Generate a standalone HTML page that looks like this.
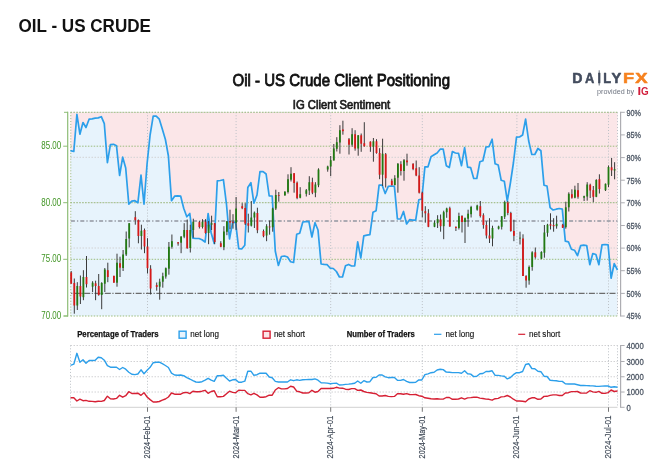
<!DOCTYPE html>
<html lang="en"><head><meta charset="utf-8"><title>Oil - US Crude Client Positioning</title>
<style>html,body{margin:0;padding:0;background:#fff}body{width:670px;height:467px;overflow:hidden}svg{display:block}</style>
</head><body>
<svg width="670" height="467" viewBox="0 0 670 467" font-family="'Liberation Sans', sans-serif">
<rect width="670" height="467" fill="#fff"/>
<text x="18.5" y="31.6" font-size="18" font-weight="bold" fill="#111" textLength="132.5" lengthAdjust="spacingAndGlyphs">OIL - US CRUDE</text>
<text x="232.5" y="85.5" font-size="17" font-weight="normal" stroke="#111" stroke-width="0.85" fill="#111" textLength="217.5" lengthAdjust="spacingAndGlyphs">Oil - US Crude Client Positioning</text>
<text x="292.8" y="108.7" font-size="12.2" font-weight="normal" stroke="#1a1a1a" stroke-width="0.7" fill="#1a1a1a" textLength="97.4" lengthAdjust="spacingAndGlyphs">IG Client Sentiment</text>
<text transform="translate(572.26,83.0) scale(0.959,1)" font-size="14.8" font-weight="bold" fill="#434c5e" stroke="#434c5e" stroke-width="0.5" stroke-linejoin="round">D</text>
<text transform="translate(585.10,83.0) scale(0.870,1)" font-size="14.8" font-weight="bold" fill="#434c5e" stroke="#434c5e" stroke-width="0.5" stroke-linejoin="round">A</text>
<text transform="translate(597.49,83.0) scale(0.833,1)" font-size="14.8" font-weight="bold" fill="#434c5e" stroke="#434c5e" stroke-width="0.5" stroke-linejoin="round">I</text>
<text transform="translate(603.15,83.0) scale(0.872,1)" font-size="14.8" font-weight="bold" fill="#434c5e" stroke="#434c5e" stroke-width="0.5" stroke-linejoin="round">L</text>
<text transform="translate(611.52,83.0) scale(0.988,1)" font-size="14.8" font-weight="bold" fill="#434c5e" stroke="#434c5e" stroke-width="0.5" stroke-linejoin="round">Y</text>
<text transform="translate(623.10,83.0) scale(1.227,1)" font-size="14.8" font-weight="bold" fill="#f6821f" stroke="#f6821f" stroke-width="0.5" stroke-linejoin="round">F</text>
<text transform="translate(635.15,83.0) scale(1.250,1)" font-size="14.8" font-weight="bold" fill="#f6821f" stroke="#f6821f" stroke-width="0.5" stroke-linejoin="round">X</text>
<line x1="599.2" x2="599.2" y1="70.3" y2="85.5" stroke="#434c5e" stroke-width="0.8"/>
<text transform="translate(637.44,94.5) scale(1.228,1)" font-size="10.6" font-weight="bold" fill="#d21f3c" stroke="#d21f3c" stroke-width="0" stroke-linejoin="round">I</text>
<text transform="translate(640.91,94.5) scale(0.930,1)" font-size="10.6" font-weight="bold" fill="#d21f3c" stroke="#d21f3c" stroke-width="0" stroke-linejoin="round">G</text>
<text x="597.1" y="93.6" font-size="8" fill="#6e7480" textLength="37.1" lengthAdjust="spacingAndGlyphs">provided by</text>
<rect x="70.5" y="112.3" width="547.0" height="203.7" fill="#fbe6e8"/>
<polygon points="70.5,316.0 70.5,150.7 73.8,151.5 76.9,114.3 79.9,134.2 83.0,122.5 86.0,127.5 89.1,119.2 92.1,118.8 95.2,118.2 98.2,117.9 101.3,116.7 104.3,123.7 107.4,162.7 110.4,144.7 113.5,144.3 116.5,145.8 119.6,175.5 122.7,157.2 125.7,168.0 128.8,204.2 131.8,201.2 134.9,200.7 137.9,202.7 141.0,175.2 144.0,204.2 147.1,163.5 150.1,135.0 153.2,116.2 156.2,116.2 159.3,119.2 162.3,129.0 165.4,139.5 168.4,156.0 171.5,200.7 174.6,196.2 177.6,195.8 180.7,196.2 183.7,208.2 186.8,216.8 189.8,213.5 192.9,238.2 195.9,238.5 199.0,238.5 202.0,239.7 205.1,242.0 208.1,213.5 211.2,233.0 214.2,243.5 217.3,180.8 220.3,180.5 223.4,179.7 226.5,204.5 229.5,239.0 232.6,222.3 235.6,222.3 238.7,248.7 241.7,249.0 244.8,245.2 247.8,187.5 250.9,182.7 253.9,203.2 257.0,195.0 260.0,171.7 263.1,171.7 266.1,174.0 269.2,196.0 272.2,196.0 275.3,251.2 278.4,265.5 281.4,256.5 284.5,256.0 287.5,257.0 290.6,261.7 293.6,262.5 296.7,234.3 299.7,233.2 302.8,222.0 305.8,221.7 308.9,221.7 311.9,237.0 315.0,222.7 318.0,230.0 321.1,264.0 324.1,264.4 327.2,264.7 330.3,268.2 333.3,268.5 336.4,271.5 339.4,277.0 342.5,277.0 345.5,265.8 348.6,264.4 351.6,266.0 354.7,266.0 357.7,241.8 360.8,258.0 363.8,235.8 366.9,235.2 369.9,234.7 373.0,212.2 376.1,210.7 379.1,185.2 382.2,185.2 385.2,193.5 388.3,186.3 391.3,186.0 394.4,186.3 397.4,219.0 400.5,219.0 403.5,211.5 406.6,224.0 409.6,219.7 412.7,220.2 415.7,220.2 418.8,199.8 421.8,199.0 424.9,166.8 428.0,166.8 431.0,156.7 434.1,154.8 437.1,153.0 440.2,149.2 443.2,149.2 446.3,165.7 449.3,167.5 452.4,151.5 455.4,153.0 458.5,153.3 461.5,165.7 464.6,147.7 467.6,167.2 470.7,167.7 473.7,178.5 476.8,178.5 479.9,161.7 482.9,160.8 486.0,147.0 489.0,146.7 492.1,139.2 495.1,163.8 498.2,165.0 501.2,180.3 504.3,181.2 507.3,201.0 510.4,183.0 513.4,163.0 516.5,137.2 519.5,137.0 522.6,135.0 525.6,119.2 528.7,141.0 531.8,154.5 534.8,154.5 537.9,148.5 540.9,150.7 544.0,185.2 547.0,186.0 550.1,207.7 553.1,210.0 556.2,209.2 559.2,208.5 562.3,209.2 565.3,241.2 568.4,241.8 571.4,249.3 574.5,250.2 577.5,255.7 580.6,245.7 583.7,245.2 586.7,245.5 589.8,264.7 592.8,253.5 595.9,254.5 598.9,264.7 602.0,244.8 605.0,244.5 608.1,244.8 611.1,278.2 614.2,263.7 617.5,270.0 617.5,316.0" fill="#e7f3fc"/>
<line x1="70.5" x2="617.5" y1="112.3" y2="112.3" stroke="#d2d2d4" stroke-width="1" stroke-dasharray="1.5 1.5"/>
<line x1="70.5" x2="617.5" y1="157.3" y2="157.3" stroke="#d2d2d4" stroke-width="1" stroke-dasharray="1.5 1.5"/>
<line x1="70.5" x2="617.5" y1="202.7" y2="202.7" stroke="#d2d2d4" stroke-width="1" stroke-dasharray="1.5 1.5"/>
<line x1="70.5" x2="617.5" y1="248.0" y2="248.0" stroke="#d2d2d4" stroke-width="1" stroke-dasharray="1.5 1.5"/>
<line x1="147.5" x2="147.5" y1="112.3" y2="316.0" stroke="#bcc0c6" stroke-width="1" stroke-dasharray="1 1.95"/>
<line x1="236.1" x2="236.1" y1="112.3" y2="316.0" stroke="#bcc0c6" stroke-width="1" stroke-dasharray="1 1.95"/>
<line x1="330.7" x2="330.7" y1="112.3" y2="316.0" stroke="#bcc0c6" stroke-width="1" stroke-dasharray="1 1.95"/>
<line x1="422.3" x2="422.3" y1="112.3" y2="316.0" stroke="#bcc0c6" stroke-width="1" stroke-dasharray="1 1.95"/>
<line x1="516.9" x2="516.9" y1="112.3" y2="316.0" stroke="#bcc0c6" stroke-width="1" stroke-dasharray="1 1.95"/>
<line x1="608.5" x2="608.5" y1="112.3" y2="316.0" stroke="#bcc0c6" stroke-width="1" stroke-dasharray="1 1.95"/>
<line x1="617.5" x2="617.5" y1="112.3" y2="316.0" stroke="#bcc0c6" stroke-width="1" stroke-dasharray="1 1.95"/>
<line x1="70.8" x2="70.8" y1="112.3" y2="316.0" stroke="#9cbd7e" stroke-width="1" stroke-dasharray="1 1.9"/>
<line x1="70.5" x2="617.5" y1="112.3" y2="112.3" stroke="#9cbd7e" stroke-width="1" stroke-dasharray="1.5 1.4"/>
<line x1="70.5" x2="617.5" y1="146.2" y2="146.2" stroke="#9cbd7e" stroke-width="1" stroke-dasharray="1.5 1.4"/>
<line x1="70.5" x2="617.5" y1="202.7" y2="202.7" stroke="#9cbd7e" stroke-width="1" stroke-dasharray="1.5 1.4"/>
<line x1="70.5" x2="617.5" y1="259.3" y2="259.3" stroke="#9cbd7e" stroke-width="1" stroke-dasharray="1.5 1.4"/>
<line x1="70.5" x2="617.5" y1="316.0" y2="316.0" stroke="#9cbd7e" stroke-width="1" stroke-dasharray="1.5 1.4"/>
<line x1="70.9" x2="617.5" y1="220.9" y2="220.9" stroke="#9296a0" stroke-width="1.5" stroke-dasharray="4 2.05 1.3 2.05"/>
<line x1="70.5" x2="617.5" y1="293.4" y2="293.4" stroke="#6c6c6c" stroke-width="1.4" stroke-dasharray="6 1.55 1.2 1.55" stroke-dashoffset="6.9"/>
<polyline points="70.5,150.7 73.8,151.5 76.9,114.3 79.9,134.2 83.0,122.5 86.0,127.5 89.1,119.2 92.1,118.8 95.2,118.2 98.2,117.9 101.3,116.7 104.3,123.7 107.4,162.7 110.4,144.7 113.5,144.3 116.5,145.8 119.6,175.5 122.7,157.2 125.7,168.0 128.8,204.2 131.8,201.2 134.9,200.7 137.9,202.7 141.0,175.2 144.0,204.2 147.1,163.5 150.1,135.0 153.2,116.2 156.2,116.2 159.3,119.2 162.3,129.0 165.4,139.5 168.4,156.0 171.5,200.7 174.6,196.2 177.6,195.8 180.7,196.2 183.7,208.2 186.8,216.8 189.8,213.5 192.9,238.2 195.9,238.5 199.0,238.5 202.0,239.7 205.1,242.0 208.1,213.5 211.2,233.0 214.2,243.5 217.3,180.8 220.3,180.5 223.4,179.7 226.5,204.5 229.5,239.0 232.6,222.3 235.6,222.3 238.7,248.7 241.7,249.0 244.8,245.2 247.8,187.5 250.9,182.7 253.9,203.2 257.0,195.0 260.0,171.7 263.1,171.7 266.1,174.0 269.2,196.0 272.2,196.0 275.3,251.2 278.4,265.5 281.4,256.5 284.5,256.0 287.5,257.0 290.6,261.7 293.6,262.5 296.7,234.3 299.7,233.2 302.8,222.0 305.8,221.7 308.9,221.7 311.9,237.0 315.0,222.7 318.0,230.0 321.1,264.0 324.1,264.4 327.2,264.7 330.3,268.2 333.3,268.5 336.4,271.5 339.4,277.0 342.5,277.0 345.5,265.8 348.6,264.4 351.6,266.0 354.7,266.0 357.7,241.8 360.8,258.0 363.8,235.8 366.9,235.2 369.9,234.7 373.0,212.2 376.1,210.7 379.1,185.2 382.2,185.2 385.2,193.5 388.3,186.3 391.3,186.0 394.4,186.3 397.4,219.0 400.5,219.0 403.5,211.5 406.6,224.0 409.6,219.7 412.7,220.2 415.7,220.2 418.8,199.8 421.8,199.0 424.9,166.8 428.0,166.8 431.0,156.7 434.1,154.8 437.1,153.0 440.2,149.2 443.2,149.2 446.3,165.7 449.3,167.5 452.4,151.5 455.4,153.0 458.5,153.3 461.5,165.7 464.6,147.7 467.6,167.2 470.7,167.7 473.7,178.5 476.8,178.5 479.9,161.7 482.9,160.8 486.0,147.0 489.0,146.7 492.1,139.2 495.1,163.8 498.2,165.0 501.2,180.3 504.3,181.2 507.3,201.0 510.4,183.0 513.4,163.0 516.5,137.2 519.5,137.0 522.6,135.0 525.6,119.2 528.7,141.0 531.8,154.5 534.8,154.5 537.9,148.5 540.9,150.7 544.0,185.2 547.0,186.0 550.1,207.7 553.1,210.0 556.2,209.2 559.2,208.5 562.3,209.2 565.3,241.2 568.4,241.8 571.4,249.3 574.5,250.2 577.5,255.7 580.6,245.7 583.7,245.2 586.7,245.5 589.8,264.7 592.8,253.5 595.9,254.5 598.9,264.7 602.0,244.8 605.0,244.5 608.1,244.8 611.1,278.2 614.2,263.7 617.5,270.0" fill="none" stroke="#2c9fea" stroke-width="1.7" stroke-linejoin="round"/>
<line x1="71.2" x2="71.2" y1="271" y2="283.7" stroke="#3a3a3a" stroke-width="1"/>
<rect x="70.3" y="272.5" width="1.8" height="11.2" fill="#d81818"/>
<line x1="74.3" x2="74.3" y1="278.5" y2="313.7" stroke="#3a3a3a" stroke-width="1"/>
<rect x="73.4" y="283" width="1.8" height="22.5" fill="#d81818"/>
<line x1="77.3" x2="77.3" y1="282.2" y2="310" stroke="#3a3a3a" stroke-width="1"/>
<rect x="76.4" y="286" width="1.8" height="19.5" fill="#217a12"/>
<line x1="80.4" x2="80.4" y1="275.5" y2="304" stroke="#3a3a3a" stroke-width="1"/>
<rect x="79.5" y="286" width="1.8" height="10.5" fill="#d81818"/>
<line x1="83.4" x2="83.4" y1="270.2" y2="300.2" stroke="#3a3a3a" stroke-width="1"/>
<rect x="82.5" y="277" width="1.8" height="20.2" fill="#217a12"/>
<line x1="86.5" x2="86.5" y1="256" y2="287.5" stroke="#3a3a3a" stroke-width="1"/>
<rect x="85.6" y="277" width="1.8" height="7.2" fill="#d81818"/>
<line x1="92.6" x2="92.6" y1="281.2" y2="292" stroke="#3a3a3a" stroke-width="1"/>
<rect x="91.7" y="282.7" width="1.8" height="4.0" fill="#217a12"/>
<line x1="95.6" x2="95.6" y1="280.7" y2="300.2" stroke="#3a3a3a" stroke-width="1"/>
<rect x="94.7" y="283.3" width="1.8" height="2.7" fill="#d81818"/>
<line x1="98.7" x2="98.7" y1="274" y2="295.7" stroke="#3a3a3a" stroke-width="1"/>
<rect x="97.8" y="286" width="1.8" height="9.0" fill="#d81818"/>
<line x1="101.7" x2="101.7" y1="282.2" y2="309.2" stroke="#3a3a3a" stroke-width="1"/>
<rect x="100.8" y="283" width="1.8" height="12.0" fill="#217a12"/>
<line x1="104.8" x2="104.8" y1="268" y2="292" stroke="#3a3a3a" stroke-width="1"/>
<rect x="103.9" y="269.5" width="1.8" height="14.2" fill="#217a12"/>
<line x1="107.8" x2="107.8" y1="262.7" y2="282.2" stroke="#3a3a3a" stroke-width="1"/>
<rect x="106.9" y="270.2" width="1.8" height="6.8" fill="#d81818"/>
<line x1="113.9" x2="113.9" y1="275.8" y2="282.7" stroke="#3a3a3a" stroke-width="1"/>
<rect x="113.0" y="275.8" width="1.8" height="6.9" fill="#d81818"/>
<line x1="117.0" x2="117.0" y1="253.7" y2="286.7" stroke="#3a3a3a" stroke-width="1"/>
<rect x="116.1" y="262.7" width="1.8" height="20.0" fill="#217a12"/>
<line x1="120.0" x2="120.0" y1="256.7" y2="277" stroke="#3a3a3a" stroke-width="1"/>
<rect x="119.1" y="263.2" width="1.8" height="4.5" fill="#d81818"/>
<line x1="123.1" x2="123.1" y1="250" y2="271" stroke="#3a3a3a" stroke-width="1"/>
<rect x="122.2" y="254.5" width="1.8" height="13.5" fill="#217a12"/>
<line x1="126.2" x2="126.2" y1="231.5" y2="256" stroke="#3a3a3a" stroke-width="1"/>
<rect x="125.3" y="239" width="1.8" height="15.5" fill="#217a12"/>
<line x1="129.2" x2="129.2" y1="223.2" y2="247.4" stroke="#3a3a3a" stroke-width="1"/>
<rect x="128.3" y="223.2" width="1.8" height="15.3" fill="#217a12"/>
<line x1="135.3" x2="135.3" y1="211.2" y2="224.7" stroke="#3a3a3a" stroke-width="1"/>
<rect x="134.4" y="217.2" width="1.8" height="3.0" fill="#d81818"/>
<line x1="138.4" x2="138.4" y1="219.5" y2="243.3" stroke="#3a3a3a" stroke-width="1"/>
<rect x="137.5" y="220.2" width="1.8" height="15.8" fill="#d81818"/>
<line x1="141.4" x2="141.4" y1="224.7" y2="249.5" stroke="#3a3a3a" stroke-width="1"/>
<rect x="140.5" y="230.7" width="1.8" height="5.3" fill="#217a12"/>
<line x1="144.5" x2="144.5" y1="228.5" y2="253.2" stroke="#3a3a3a" stroke-width="1"/>
<rect x="143.6" y="230" width="1.8" height="16.5" fill="#d81818"/>
<line x1="147.5" x2="147.5" y1="238.2" y2="273.5" stroke="#3a3a3a" stroke-width="1"/>
<rect x="146.6" y="246.5" width="1.8" height="21.7" fill="#d81818"/>
<line x1="150.6" x2="150.6" y1="265.2" y2="294.5" stroke="#3a3a3a" stroke-width="1"/>
<rect x="149.7" y="268.7" width="1.8" height="19.8" fill="#d81818"/>
<line x1="156.7" x2="156.7" y1="282.5" y2="290.7" stroke="#3a3a3a" stroke-width="1"/>
<rect x="155.8" y="285" width="1.8" height="2.0" fill="#d81818"/>
<line x1="159.7" x2="159.7" y1="278.7" y2="299.7" stroke="#3a3a3a" stroke-width="1"/>
<rect x="158.8" y="281.7" width="1.8" height="5.0" fill="#217a12"/>
<line x1="162.8" x2="162.8" y1="272.7" y2="287.7" stroke="#3a3a3a" stroke-width="1"/>
<rect x="161.9" y="276.2" width="1.8" height="5.5" fill="#217a12"/>
<line x1="165.8" x2="165.8" y1="267.5" y2="278.7" stroke="#3a3a3a" stroke-width="1"/>
<rect x="164.9" y="268.2" width="1.8" height="8.3" fill="#217a12"/>
<line x1="168.9" x2="168.9" y1="242" y2="274.7" stroke="#3a3a3a" stroke-width="1"/>
<rect x="168.0" y="246.8" width="1.8" height="21.9" fill="#217a12"/>
<line x1="171.9" x2="171.9" y1="234.5" y2="248.7" stroke="#3a3a3a" stroke-width="1"/>
<rect x="171.0" y="241.2" width="1.8" height="5.6" fill="#217a12"/>
<line x1="178.1" x2="178.1" y1="242" y2="245.7" stroke="#3a3a3a" stroke-width="1"/>
<rect x="177.2" y="242.3" width="1.8" height="1.2" fill="#d81818"/>
<line x1="181.1" x2="181.1" y1="236" y2="253.2" stroke="#3a3a3a" stroke-width="1"/>
<rect x="180.2" y="236.7" width="1.8" height="6.0" fill="#217a12"/>
<line x1="184.2" x2="184.2" y1="223.2" y2="238.2" stroke="#3a3a3a" stroke-width="1"/>
<rect x="183.3" y="230" width="1.8" height="6.7" fill="#217a12"/>
<line x1="187.2" x2="187.2" y1="219.5" y2="248.7" stroke="#3a3a3a" stroke-width="1"/>
<rect x="186.3" y="230" width="1.8" height="18.3" fill="#d81818"/>
<line x1="190.3" x2="190.3" y1="224.7" y2="252.5" stroke="#3a3a3a" stroke-width="1"/>
<rect x="189.4" y="230" width="1.8" height="18.0" fill="#217a12"/>
<line x1="193.3" x2="193.3" y1="218.7" y2="237.7" stroke="#3a3a3a" stroke-width="1"/>
<rect x="192.4" y="221.7" width="1.8" height="8.3" fill="#217a12"/>
<line x1="199.4" x2="199.4" y1="221" y2="228.5" stroke="#3a3a3a" stroke-width="1"/>
<rect x="198.5" y="222.2" width="1.8" height="4.8" fill="#d81818"/>
<line x1="202.5" x2="202.5" y1="219.2" y2="228.5" stroke="#3a3a3a" stroke-width="1"/>
<rect x="201.6" y="221.7" width="1.8" height="5.3" fill="#217a12"/>
<line x1="205.5" x2="205.5" y1="219.2" y2="233.7" stroke="#3a3a3a" stroke-width="1"/>
<rect x="204.6" y="221.7" width="1.8" height="11.3" fill="#d81818"/>
<line x1="208.6" x2="208.6" y1="221" y2="244.2" stroke="#3a3a3a" stroke-width="1"/>
<rect x="207.7" y="224.7" width="1.8" height="8.3" fill="#217a12"/>
<line x1="211.6" x2="211.6" y1="215.7" y2="230" stroke="#3a3a3a" stroke-width="1"/>
<rect x="210.7" y="223.2" width="1.8" height="1.5" fill="#217a12"/>
<line x1="214.7" x2="214.7" y1="223" y2="244.2" stroke="#3a3a3a" stroke-width="1"/>
<rect x="213.8" y="223.2" width="1.8" height="18.8" fill="#d81818"/>
<line x1="220.8" x2="220.8" y1="241.2" y2="247.2" stroke="#3a3a3a" stroke-width="1"/>
<rect x="219.9" y="243.2" width="1.8" height="3.6" fill="#d81818"/>
<line x1="223.9" x2="223.9" y1="226.2" y2="250.2" stroke="#3a3a3a" stroke-width="1"/>
<rect x="223.0" y="231.5" width="1.8" height="15.7" fill="#217a12"/>
<line x1="226.9" x2="226.9" y1="221" y2="235.2" stroke="#3a3a3a" stroke-width="1"/>
<rect x="226.0" y="221.3" width="1.8" height="10.5" fill="#217a12"/>
<line x1="230.0" x2="230.0" y1="209.7" y2="229.2" stroke="#3a3a3a" stroke-width="1"/>
<rect x="229.1" y="221" width="1.8" height="1.5" fill="#d81818"/>
<line x1="233.0" x2="233.0" y1="214.2" y2="228.7" stroke="#3a3a3a" stroke-width="1"/>
<rect x="232.1" y="221.7" width="1.8" height="1.1" fill="#d81818"/>
<line x1="236.1" x2="236.1" y1="197" y2="230" stroke="#3a3a3a" stroke-width="1"/>
<rect x="235.2" y="208.5" width="1.8" height="14.2" fill="#217a12"/>
<line x1="242.2" x2="242.2" y1="203.2" y2="209.2" stroke="#3a3a3a" stroke-width="1"/>
<rect x="241.3" y="206.2" width="1.8" height="2.0" fill="#d81818"/>
<line x1="245.2" x2="245.2" y1="203.2" y2="225" stroke="#3a3a3a" stroke-width="1"/>
<rect x="244.3" y="208" width="1.8" height="15.5" fill="#d81818"/>
<line x1="248.3" x2="248.3" y1="213.7" y2="232.5" stroke="#3a3a3a" stroke-width="1"/>
<rect x="247.4" y="223.2" width="1.8" height="2.5" fill="#d81818"/>
<line x1="251.3" x2="251.3" y1="201" y2="226.5" stroke="#3a3a3a" stroke-width="1"/>
<rect x="250.4" y="217.5" width="1.8" height="8.2" fill="#217a12"/>
<line x1="254.4" x2="254.4" y1="211.5" y2="228" stroke="#3a3a3a" stroke-width="1"/>
<rect x="253.5" y="212.7" width="1.8" height="4.8" fill="#217a12"/>
<line x1="257.4" x2="257.4" y1="207.7" y2="233.2" stroke="#3a3a3a" stroke-width="1"/>
<rect x="256.5" y="213" width="1.8" height="17.2" fill="#d81818"/>
<line x1="263.5" x2="263.5" y1="229.5" y2="237.3" stroke="#3a3a3a" stroke-width="1"/>
<rect x="262.6" y="231" width="1.8" height="5.2" fill="#d81818"/>
<line x1="266.6" x2="266.6" y1="224.2" y2="241.2" stroke="#3a3a3a" stroke-width="1"/>
<rect x="265.7" y="226.2" width="1.8" height="9.3" fill="#217a12"/>
<line x1="269.6" x2="269.6" y1="220.5" y2="234.7" stroke="#3a3a3a" stroke-width="1"/>
<rect x="268.7" y="226.5" width="1.8" height="0.9" fill="#d81818"/>
<line x1="272.7" x2="272.7" y1="207.7" y2="231.7" stroke="#3a3a3a" stroke-width="1"/>
<rect x="271.8" y="208.5" width="1.8" height="18.7" fill="#217a12"/>
<line x1="275.8" x2="275.8" y1="189.7" y2="210" stroke="#3a3a3a" stroke-width="1"/>
<rect x="274.9" y="195" width="1.8" height="13.5" fill="#217a12"/>
<line x1="278.8" x2="278.8" y1="192" y2="201.7" stroke="#3a3a3a" stroke-width="1"/>
<rect x="277.9" y="195" width="1.8" height="0.8" fill="#d81818"/>
<line x1="284.9" x2="284.9" y1="191.2" y2="195.7" stroke="#3a3a3a" stroke-width="1"/>
<rect x="284.0" y="191.7" width="1.8" height="3.7" fill="#217a12"/>
<line x1="288.0" x2="288.0" y1="174.3" y2="193.5" stroke="#3a3a3a" stroke-width="1"/>
<rect x="287.1" y="179.2" width="1.8" height="12.8" fill="#217a12"/>
<line x1="291.0" x2="291.0" y1="167.2" y2="181.5" stroke="#3a3a3a" stroke-width="1"/>
<rect x="290.1" y="173.7" width="1.8" height="6.0" fill="#217a12"/>
<line x1="294.1" x2="294.1" y1="173.2" y2="192.7" stroke="#3a3a3a" stroke-width="1"/>
<rect x="293.2" y="173.2" width="1.8" height="9.8" fill="#d81818"/>
<line x1="297.1" x2="297.1" y1="181.5" y2="199.2" stroke="#3a3a3a" stroke-width="1"/>
<rect x="296.2" y="182.7" width="1.8" height="15.3" fill="#d81818"/>
<line x1="300.2" x2="300.2" y1="187.2" y2="198.3" stroke="#3a3a3a" stroke-width="1"/>
<rect x="299.3" y="194.2" width="1.8" height="3.5" fill="#217a12"/>
<line x1="306.3" x2="306.3" y1="189" y2="196.5" stroke="#3a3a3a" stroke-width="1"/>
<rect x="305.4" y="190.2" width="1.8" height="3.6" fill="#217a12"/>
<line x1="309.3" x2="309.3" y1="176.2" y2="195" stroke="#3a3a3a" stroke-width="1"/>
<rect x="308.4" y="182.2" width="1.8" height="8.3" fill="#217a12"/>
<line x1="312.4" x2="312.4" y1="177.7" y2="194.2" stroke="#3a3a3a" stroke-width="1"/>
<rect x="311.5" y="182.2" width="1.8" height="10.5" fill="#d81818"/>
<line x1="315.4" x2="315.4" y1="182.2" y2="197.2" stroke="#3a3a3a" stroke-width="1"/>
<rect x="314.5" y="184.5" width="1.8" height="8.2" fill="#217a12"/>
<line x1="318.5" x2="318.5" y1="168.3" y2="187.2" stroke="#3a3a3a" stroke-width="1"/>
<rect x="317.6" y="169.5" width="1.8" height="15.7" fill="#217a12"/>
<line x1="327.7" x2="327.7" y1="165.7" y2="171.7" stroke="#3a3a3a" stroke-width="1"/>
<rect x="326.8" y="166.5" width="1.8" height="3.0" fill="#217a12"/>
<line x1="330.7" x2="330.7" y1="156" y2="176.2" stroke="#3a3a3a" stroke-width="1"/>
<rect x="329.8" y="160.2" width="1.8" height="6.3" fill="#217a12"/>
<line x1="333.8" x2="333.8" y1="144" y2="160.5" stroke="#3a3a3a" stroke-width="1"/>
<rect x="332.9" y="148.5" width="1.8" height="12.0" fill="#217a12"/>
<line x1="336.8" x2="336.8" y1="137.2" y2="151.5" stroke="#3a3a3a" stroke-width="1"/>
<rect x="335.9" y="142.2" width="1.8" height="6.6" fill="#217a12"/>
<line x1="339.9" x2="339.9" y1="125.2" y2="153.7" stroke="#3a3a3a" stroke-width="1"/>
<rect x="339.0" y="130.2" width="1.8" height="12.3" fill="#217a12"/>
<line x1="342.9" x2="342.9" y1="120.7" y2="134.7" stroke="#3a3a3a" stroke-width="1"/>
<rect x="342.0" y="129.5" width="1.8" height="1.7" fill="#d81818"/>
<line x1="349.0" x2="349.0" y1="138" y2="154.5" stroke="#3a3a3a" stroke-width="1"/>
<rect x="348.1" y="139.2" width="1.8" height="5.5" fill="#d81818"/>
<line x1="352.1" x2="352.1" y1="128.2" y2="146.7" stroke="#3a3a3a" stroke-width="1"/>
<rect x="351.2" y="134.2" width="1.8" height="10.5" fill="#217a12"/>
<line x1="355.1" x2="355.1" y1="130.2" y2="150.7" stroke="#3a3a3a" stroke-width="1"/>
<rect x="354.2" y="134.2" width="1.8" height="14.3" fill="#d81818"/>
<line x1="358.2" x2="358.2" y1="135" y2="155.7" stroke="#3a3a3a" stroke-width="1"/>
<rect x="357.3" y="135.3" width="1.8" height="13.2" fill="#217a12"/>
<line x1="361.2" x2="361.2" y1="133.5" y2="151.8" stroke="#3a3a3a" stroke-width="1"/>
<rect x="360.3" y="135.3" width="1.8" height="8.4" fill="#d81818"/>
<line x1="364.3" x2="364.3" y1="122.2" y2="146.7" stroke="#3a3a3a" stroke-width="1"/>
<rect x="363.4" y="143.2" width="1.8" height="3.0" fill="#d81818"/>
<line x1="370.4" x2="370.4" y1="141.3" y2="151.8" stroke="#3a3a3a" stroke-width="1"/>
<rect x="369.5" y="141.7" width="1.8" height="5.0" fill="#d81818"/>
<line x1="373.4" x2="373.4" y1="138" y2="161.7" stroke="#3a3a3a" stroke-width="1"/>
<rect x="372.5" y="141.3" width="1.8" height="5.4" fill="#217a12"/>
<line x1="376.5" x2="376.5" y1="139.2" y2="153.7" stroke="#3a3a3a" stroke-width="1"/>
<rect x="375.6" y="141.3" width="1.8" height="11.7" fill="#d81818"/>
<line x1="379.6" x2="379.6" y1="148.2" y2="179.2" stroke="#3a3a3a" stroke-width="1"/>
<rect x="378.7" y="153" width="1.8" height="21.7" fill="#d81818"/>
<line x1="382.6" x2="382.6" y1="138.7" y2="186" stroke="#3a3a3a" stroke-width="1"/>
<rect x="381.7" y="153.7" width="1.8" height="21.0" fill="#217a12"/>
<line x1="385.7" x2="385.7" y1="153" y2="187.5" stroke="#3a3a3a" stroke-width="1"/>
<rect x="384.8" y="154.2" width="1.8" height="24.0" fill="#d81818"/>
<line x1="391.8" x2="391.8" y1="178.8" y2="185.2" stroke="#3a3a3a" stroke-width="1"/>
<rect x="390.9" y="180.7" width="1.8" height="4.5" fill="#d81818"/>
<line x1="394.8" x2="394.8" y1="175.2" y2="185.2" stroke="#3a3a3a" stroke-width="1"/>
<rect x="393.9" y="178.2" width="1.8" height="7.0" fill="#217a12"/>
<line x1="397.9" x2="397.9" y1="163" y2="192.7" stroke="#3a3a3a" stroke-width="1"/>
<rect x="397.0" y="163.8" width="1.8" height="13.9" fill="#217a12"/>
<line x1="400.9" x2="400.9" y1="161.2" y2="175.5" stroke="#3a3a3a" stroke-width="1"/>
<rect x="400.0" y="164.2" width="1.8" height="6.8" fill="#d81818"/>
<line x1="404.0" x2="404.0" y1="159" y2="180.7" stroke="#3a3a3a" stroke-width="1"/>
<rect x="403.1" y="160.2" width="1.8" height="10.8" fill="#217a12"/>
<line x1="407.0" x2="407.0" y1="153.7" y2="165.7" stroke="#3a3a3a" stroke-width="1"/>
<rect x="406.1" y="160.5" width="1.8" height="1.8" fill="#d81818"/>
<line x1="413.1" x2="413.1" y1="163.2" y2="170.2" stroke="#3a3a3a" stroke-width="1"/>
<rect x="412.2" y="163.8" width="1.8" height="5.2" fill="#d81818"/>
<line x1="416.2" x2="416.2" y1="160.5" y2="176.2" stroke="#3a3a3a" stroke-width="1"/>
<rect x="415.3" y="168.3" width="1.8" height="7.2" fill="#d81818"/>
<line x1="419.2" x2="419.2" y1="167.2" y2="193.5" stroke="#3a3a3a" stroke-width="1"/>
<rect x="418.3" y="175.5" width="1.8" height="17.2" fill="#d81818"/>
<line x1="422.3" x2="422.3" y1="191.7" y2="217.5" stroke="#3a3a3a" stroke-width="1"/>
<rect x="421.4" y="192.7" width="1.8" height="18.0" fill="#d81818"/>
<line x1="425.3" x2="425.3" y1="206.2" y2="222.7" stroke="#3a3a3a" stroke-width="1"/>
<rect x="424.4" y="211.2" width="1.8" height="2.1" fill="#d81818"/>
<line x1="428.4" x2="428.4" y1="209.2" y2="227.2" stroke="#3a3a3a" stroke-width="1"/>
<rect x="427.5" y="213.3" width="1.8" height="13.5" fill="#d81818"/>
<line x1="434.5" x2="434.5" y1="220.5" y2="227.2" stroke="#3a3a3a" stroke-width="1"/>
<rect x="433.6" y="222.7" width="1.8" height="4.1" fill="#217a12"/>
<line x1="437.6" x2="437.6" y1="215.2" y2="228" stroke="#3a3a3a" stroke-width="1"/>
<rect x="436.7" y="219" width="1.8" height="4.2" fill="#217a12"/>
<line x1="440.6" x2="440.6" y1="214.5" y2="231.7" stroke="#3a3a3a" stroke-width="1"/>
<rect x="439.7" y="219.3" width="1.8" height="6.9" fill="#d81818"/>
<line x1="443.7" x2="443.7" y1="210.7" y2="239.2" stroke="#3a3a3a" stroke-width="1"/>
<rect x="442.8" y="212.2" width="1.8" height="14.0" fill="#217a12"/>
<line x1="446.7" x2="446.7" y1="207.7" y2="217.8" stroke="#3a3a3a" stroke-width="1"/>
<rect x="445.8" y="208.5" width="1.8" height="3.7" fill="#217a12"/>
<line x1="449.8" x2="449.8" y1="206.7" y2="226.8" stroke="#3a3a3a" stroke-width="1"/>
<rect x="448.9" y="208.2" width="1.8" height="18.3" fill="#d81818"/>
<line x1="455.9" x2="455.9" y1="226.5" y2="231" stroke="#3a3a3a" stroke-width="1"/>
<rect x="455.0" y="226.8" width="1.8" height="1.2" fill="#d81818"/>
<line x1="458.9" x2="458.9" y1="212.7" y2="229.5" stroke="#3a3a3a" stroke-width="1"/>
<rect x="458.0" y="216" width="1.8" height="12.0" fill="#217a12"/>
<line x1="462.0" x2="462.0" y1="215.2" y2="232.5" stroke="#3a3a3a" stroke-width="1"/>
<rect x="461.1" y="216" width="1.8" height="6.0" fill="#d81818"/>
<line x1="465.0" x2="465.0" y1="217.5" y2="243" stroke="#3a3a3a" stroke-width="1"/>
<rect x="464.1" y="218.2" width="1.8" height="3.8" fill="#217a12"/>
<line x1="468.1" x2="468.1" y1="209.7" y2="226.8" stroke="#3a3a3a" stroke-width="1"/>
<rect x="467.2" y="213.7" width="1.8" height="5.0" fill="#217a12"/>
<line x1="471.1" x2="471.1" y1="205.8" y2="217.5" stroke="#3a3a3a" stroke-width="1"/>
<rect x="470.2" y="207" width="1.8" height="7.2" fill="#217a12"/>
<line x1="477.2" x2="477.2" y1="204.7" y2="210.7" stroke="#3a3a3a" stroke-width="1"/>
<rect x="476.3" y="205.5" width="1.8" height="4.2" fill="#217a12"/>
<line x1="480.3" x2="480.3" y1="201" y2="217.5" stroke="#3a3a3a" stroke-width="1"/>
<rect x="479.4" y="206.2" width="1.8" height="9.8" fill="#d81818"/>
<line x1="483.4" x2="483.4" y1="213.3" y2="228.7" stroke="#3a3a3a" stroke-width="1"/>
<rect x="482.5" y="215.2" width="1.8" height="9.8" fill="#d81818"/>
<line x1="486.4" x2="486.4" y1="221.2" y2="238.5" stroke="#3a3a3a" stroke-width="1"/>
<rect x="485.5" y="225" width="1.8" height="10.5" fill="#d81818"/>
<line x1="489.5" x2="489.5" y1="218.2" y2="243" stroke="#3a3a3a" stroke-width="1"/>
<rect x="488.6" y="235.5" width="1.8" height="3.0" fill="#d81818"/>
<line x1="492.5" x2="492.5" y1="225.7" y2="246.3" stroke="#3a3a3a" stroke-width="1"/>
<rect x="491.6" y="228" width="1.8" height="10.5" fill="#217a12"/>
<line x1="498.6" x2="498.6" y1="225.7" y2="229.5" stroke="#3a3a3a" stroke-width="1"/>
<rect x="497.7" y="226.5" width="1.8" height="2.2" fill="#217a12"/>
<line x1="501.7" x2="501.7" y1="216" y2="229.5" stroke="#3a3a3a" stroke-width="1"/>
<rect x="500.8" y="216.3" width="1.8" height="10.5" fill="#217a12"/>
<line x1="504.7" x2="504.7" y1="200.7" y2="219" stroke="#3a3a3a" stroke-width="1"/>
<rect x="503.8" y="202.2" width="1.8" height="14.5" fill="#217a12"/>
<line x1="507.8" x2="507.8" y1="201" y2="215.2" stroke="#3a3a3a" stroke-width="1"/>
<rect x="506.9" y="202.5" width="1.8" height="10.5" fill="#d81818"/>
<line x1="510.8" x2="510.8" y1="211.8" y2="231.7" stroke="#3a3a3a" stroke-width="1"/>
<rect x="509.9" y="213" width="1.8" height="18.0" fill="#d81818"/>
<line x1="513.9" x2="513.9" y1="219.7" y2="241.2" stroke="#3a3a3a" stroke-width="1"/>
<rect x="513.0" y="231" width="1.8" height="4.8" fill="#d81818"/>
<line x1="520.0" x2="520.0" y1="231.7" y2="244.5" stroke="#3a3a3a" stroke-width="1"/>
<rect x="519.1" y="237.7" width="1.8" height="0.8" fill="#217a12"/>
<line x1="523.0" x2="523.0" y1="234.3" y2="276" stroke="#3a3a3a" stroke-width="1"/>
<rect x="522.1" y="238.5" width="1.8" height="37.5" fill="#d81818"/>
<line x1="526.1" x2="526.1" y1="275.2" y2="287.7" stroke="#3a3a3a" stroke-width="1"/>
<rect x="525.2" y="276" width="1.8" height="4.5" fill="#d81818"/>
<line x1="529.1" x2="529.1" y1="265.5" y2="284.7" stroke="#3a3a3a" stroke-width="1"/>
<rect x="528.2" y="267" width="1.8" height="13.5" fill="#217a12"/>
<line x1="532.2" x2="532.2" y1="251.2" y2="270.7" stroke="#3a3a3a" stroke-width="1"/>
<rect x="531.3" y="252.3" width="1.8" height="14.7" fill="#217a12"/>
<line x1="535.3" x2="535.3" y1="247.5" y2="258.7" stroke="#3a3a3a" stroke-width="1"/>
<rect x="534.4" y="252.3" width="1.8" height="4.9" fill="#d81818"/>
<line x1="541.4" x2="541.4" y1="251.2" y2="259.2" stroke="#3a3a3a" stroke-width="1"/>
<rect x="540.5" y="252" width="1.8" height="6.7" fill="#217a12"/>
<line x1="544.4" x2="544.4" y1="225" y2="257.7" stroke="#3a3a3a" stroke-width="1"/>
<rect x="543.5" y="232.5" width="1.8" height="20.2" fill="#217a12"/>
<line x1="547.5" x2="547.5" y1="223.8" y2="236.7" stroke="#3a3a3a" stroke-width="1"/>
<rect x="546.6" y="224.7" width="1.8" height="8.1" fill="#217a12"/>
<line x1="550.5" x2="550.5" y1="213.3" y2="229.5" stroke="#3a3a3a" stroke-width="1"/>
<rect x="549.6" y="224.2" width="1.8" height="1.5" fill="#d81818"/>
<line x1="553.6" x2="553.6" y1="218.2" y2="231.7" stroke="#3a3a3a" stroke-width="1"/>
<rect x="552.7" y="225" width="1.8" height="1.2" fill="#d81818"/>
<line x1="556.6" x2="556.6" y1="215.7" y2="228.7" stroke="#3a3a3a" stroke-width="1"/>
<rect x="555.7" y="223.8" width="1.8" height="2.4" fill="#217a12"/>
<line x1="562.7" x2="562.7" y1="223.8" y2="228" stroke="#3a3a3a" stroke-width="1"/>
<rect x="561.8" y="224.7" width="1.8" height="3.0" fill="#d81818"/>
<line x1="565.8" x2="565.8" y1="201.7" y2="228.7" stroke="#3a3a3a" stroke-width="1"/>
<rect x="564.9" y="207.3" width="1.8" height="19.9" fill="#217a12"/>
<line x1="568.8" x2="568.8" y1="192.3" y2="211.5" stroke="#3a3a3a" stroke-width="1"/>
<rect x="567.9" y="193.8" width="1.8" height="13.5" fill="#217a12"/>
<line x1="571.9" x2="571.9" y1="189.3" y2="198.7" stroke="#3a3a3a" stroke-width="1"/>
<rect x="571.0" y="194.2" width="1.8" height="3.5" fill="#d81818"/>
<line x1="574.9" x2="574.9" y1="185.7" y2="198.3" stroke="#3a3a3a" stroke-width="1"/>
<rect x="574.0" y="189.7" width="1.8" height="8.0" fill="#217a12"/>
<line x1="578.0" x2="578.0" y1="183" y2="198.7" stroke="#3a3a3a" stroke-width="1"/>
<rect x="577.1" y="190.2" width="1.8" height="6.6" fill="#d81818"/>
<line x1="584.1" x2="584.1" y1="195.7" y2="201" stroke="#3a3a3a" stroke-width="1"/>
<rect x="583.2" y="196.2" width="1.8" height="1.5" fill="#217a12"/>
<line x1="587.2" x2="587.2" y1="182.2" y2="200.7" stroke="#3a3a3a" stroke-width="1"/>
<rect x="586.3" y="184.5" width="1.8" height="12.0" fill="#217a12"/>
<line x1="590.2" x2="590.2" y1="183.7" y2="198" stroke="#3a3a3a" stroke-width="1"/>
<rect x="589.3" y="184.8" width="1.8" height="5.7" fill="#d81818"/>
<line x1="593.3" x2="593.3" y1="186" y2="202.2" stroke="#3a3a3a" stroke-width="1"/>
<rect x="592.4" y="190.2" width="1.8" height="6.6" fill="#d81818"/>
<line x1="596.3" x2="596.3" y1="179.2" y2="197.2" stroke="#3a3a3a" stroke-width="1"/>
<rect x="595.4" y="180" width="1.8" height="16.8" fill="#217a12"/>
<line x1="599.4" x2="599.4" y1="174.3" y2="193.5" stroke="#3a3a3a" stroke-width="1"/>
<rect x="598.5" y="179.2" width="1.8" height="9.8" fill="#d81818"/>
<line x1="605.5" x2="605.5" y1="183.5" y2="191" stroke="#3a3a3a" stroke-width="1"/>
<rect x="604.6" y="183.8" width="1.8" height="6.4" fill="#217a12"/>
<line x1="608.5" x2="608.5" y1="165.5" y2="187.2" stroke="#3a3a3a" stroke-width="1"/>
<rect x="607.6" y="167" width="1.8" height="17.7" fill="#217a12"/>
<line x1="611.6" x2="611.6" y1="158" y2="176" stroke="#3a3a3a" stroke-width="1"/>
<rect x="610.7" y="167.3" width="1.8" height="3.0" fill="#d81818"/>
<line x1="614.6" x2="614.6" y1="162.2" y2="179.3" stroke="#3a3a3a" stroke-width="1"/>
<rect x="613.7" y="169.2" width="1.8" height="1.3" fill="#217a12"/>
<line x1="67.7" x2="67.7" y1="111.8" y2="316.5" stroke="#8dbd76" stroke-width="1.2"/>
<line x1="64" x2="68" y1="112.3" y2="112.3" stroke="#8dbd76" stroke-width="1"/>
<line x1="64" x2="68" y1="316.0" y2="316.0" stroke="#8dbd76" stroke-width="1"/>
<line x1="63.2" x2="68" y1="146.2" y2="146.2" stroke="#8dbd76" stroke-width="1"/>
<text x="41.3" y="149.1" font-size="10.3" fill="#3f9422" textLength="19.9" lengthAdjust="spacingAndGlyphs">85.00</text>
<line x1="63.2" x2="68" y1="202.7" y2="202.7" stroke="#8dbd76" stroke-width="1"/>
<text x="41.3" y="205.6" font-size="10.3" fill="#3f9422" textLength="19.9" lengthAdjust="spacingAndGlyphs">80.00</text>
<line x1="63.2" x2="68" y1="259.3" y2="259.3" stroke="#8dbd76" stroke-width="1"/>
<text x="41.3" y="262.2" font-size="10.3" fill="#3f9422" textLength="19.9" lengthAdjust="spacingAndGlyphs">75.00</text>
<line x1="63.2" x2="68" y1="316.0" y2="316.0" stroke="#8dbd76" stroke-width="1"/>
<text x="41.3" y="318.9" font-size="10.3" fill="#3f9422" textLength="19.9" lengthAdjust="spacingAndGlyphs">70.00</text>
<line x1="620.6" x2="620.6" y1="111.8" y2="316.5" stroke="#adadb2" stroke-width="1.2"/>
<line x1="620.6" x2="624.8" y1="112.3" y2="112.3" stroke="#adadb2" stroke-width="1"/>
<text transform="translate(626.5,115.6) scale(0.755,1)" font-size="9.6" fill="#4b5563" stroke="#4b5563" stroke-width="0.3">90%</text>
<line x1="620.6" x2="624.8" y1="134.9" y2="134.9" stroke="#adadb2" stroke-width="1"/>
<text transform="translate(626.5,138.2) scale(0.755,1)" font-size="9.6" fill="#4b5563" stroke="#4b5563" stroke-width="0.3">85%</text>
<line x1="620.6" x2="624.8" y1="157.6" y2="157.6" stroke="#adadb2" stroke-width="1"/>
<text transform="translate(626.5,160.9) scale(0.755,1)" font-size="9.6" fill="#4b5563" stroke="#4b5563" stroke-width="0.3">80%</text>
<line x1="620.6" x2="624.8" y1="180.2" y2="180.2" stroke="#adadb2" stroke-width="1"/>
<text transform="translate(626.5,183.5) scale(0.755,1)" font-size="9.6" fill="#4b5563" stroke="#4b5563" stroke-width="0.3">75%</text>
<line x1="620.6" x2="624.8" y1="202.8" y2="202.8" stroke="#adadb2" stroke-width="1"/>
<text transform="translate(626.5,206.1) scale(0.755,1)" font-size="9.6" fill="#4b5563" stroke="#4b5563" stroke-width="0.3">70%</text>
<line x1="620.6" x2="624.8" y1="225.5" y2="225.5" stroke="#adadb2" stroke-width="1"/>
<text transform="translate(626.5,228.8) scale(0.755,1)" font-size="9.6" fill="#4b5563" stroke="#4b5563" stroke-width="0.3">65%</text>
<line x1="620.6" x2="624.8" y1="248.1" y2="248.1" stroke="#adadb2" stroke-width="1"/>
<text transform="translate(626.5,251.4) scale(0.755,1)" font-size="9.6" fill="#4b5563" stroke="#4b5563" stroke-width="0.3">60%</text>
<line x1="620.6" x2="624.8" y1="270.7" y2="270.7" stroke="#adadb2" stroke-width="1"/>
<text transform="translate(626.5,274.0) scale(0.755,1)" font-size="9.6" fill="#4b5563" stroke="#4b5563" stroke-width="0.3">55%</text>
<line x1="620.6" x2="624.8" y1="293.4" y2="293.4" stroke="#adadb2" stroke-width="1"/>
<text transform="translate(626.5,296.7) scale(0.755,1)" font-size="9.6" fill="#4b5563" stroke="#4b5563" stroke-width="0.3">50%</text>
<line x1="620.6" x2="624.8" y1="316.0" y2="316.0" stroke="#adadb2" stroke-width="1"/>
<text transform="translate(626.5,319.3) scale(0.755,1)" font-size="9.6" fill="#4b5563" stroke="#4b5563" stroke-width="0.3">45%</text>
<text x="77.2" y="337.3" font-size="8.6" font-weight="bold" fill="#111" stroke="#111" stroke-width="0.25" textLength="81.4" lengthAdjust="spacingAndGlyphs">Percentage of Traders</text>
<rect x="179.1" y="331.2" width="7" height="7" fill="#e7f3fc" stroke="#2c9fea" stroke-width="1.4"/>
<text x="190.3" y="337.3" font-size="8.5" fill="#151515" stroke="#151515" stroke-width="0.15" textLength="28.7" lengthAdjust="spacingAndGlyphs">net long</text>
<rect x="263.1" y="331.2" width="7" height="7" fill="#fbe6e8" stroke="#d62034" stroke-width="1.4"/>
<text x="273.9" y="337.3" font-size="8.5" fill="#151515" stroke="#151515" stroke-width="0.15" textLength="31.2" lengthAdjust="spacingAndGlyphs">net short</text>
<text x="346.8" y="337.3" font-size="8.6" font-weight="bold" fill="#111" stroke="#111" stroke-width="0.25" textLength="67.9" lengthAdjust="spacingAndGlyphs">Number of Traders</text>
<line x1="434" x2="441.4" y1="334.3" y2="334.3" stroke="#2c9fea" stroke-width="1.2"/>
<text x="445.5" y="337.3" font-size="8.5" fill="#151515" stroke="#151515" stroke-width="0.15" textLength="28.7" lengthAdjust="spacingAndGlyphs">net long</text>
<line x1="518.2" x2="525.2" y1="334.3" y2="334.3" stroke="#d62034" stroke-width="1.2"/>
<text x="529" y="337.3" font-size="8.5" fill="#151515" stroke="#151515" stroke-width="0.15" textLength="31.2" lengthAdjust="spacingAndGlyphs">net short</text>
<line x1="70.5" x2="617.5" y1="345.50" y2="345.50" stroke="#d2d2d4" stroke-width="1" stroke-dasharray="1.5 1.5"/>
<line x1="70.5" x2="617.5" y1="361.49" y2="361.49" stroke="#d2d2d4" stroke-width="1" stroke-dasharray="1.5 1.5"/>
<line x1="70.5" x2="617.5" y1="376.76" y2="376.76" stroke="#d2d2d4" stroke-width="1" stroke-dasharray="1.5 1.5"/>
<line x1="70.5" x2="617.5" y1="392.03" y2="392.03" stroke="#d2d2d4" stroke-width="1" stroke-dasharray="1.5 1.5"/>
<line x1="70.5" x2="70.5" y1="345.4" y2="407.3" stroke="#bcc0c6" stroke-width="1" stroke-dasharray="1 1.95"/>
<line x1="147.5" x2="147.5" y1="345.4" y2="407.3" stroke="#bcc0c6" stroke-width="1" stroke-dasharray="1 1.95"/>
<line x1="236.1" x2="236.1" y1="345.4" y2="407.3" stroke="#bcc0c6" stroke-width="1" stroke-dasharray="1 1.95"/>
<line x1="330.7" x2="330.7" y1="345.4" y2="407.3" stroke="#bcc0c6" stroke-width="1" stroke-dasharray="1 1.95"/>
<line x1="422.3" x2="422.3" y1="345.4" y2="407.3" stroke="#bcc0c6" stroke-width="1" stroke-dasharray="1 1.95"/>
<line x1="516.9" x2="516.9" y1="345.4" y2="407.3" stroke="#bcc0c6" stroke-width="1" stroke-dasharray="1 1.95"/>
<line x1="608.5" x2="608.5" y1="345.4" y2="407.3" stroke="#bcc0c6" stroke-width="1" stroke-dasharray="1 1.95"/>
<line x1="617.5" x2="617.5" y1="345.4" y2="407.3" stroke="#bcc0c6" stroke-width="1" stroke-dasharray="1 1.95"/>
<line x1="70.5" x2="617.5" y1="407.3" y2="407.3" stroke="#cccccc" stroke-width="0.9"/>
<polyline points="70.5,365.3 73.8,364.2 76.9,353.3 79.9,362.3 83.0,359.7 86.0,363.2 89.1,360.5 92.1,360.5 95.2,360.2 98.2,357.2 101.3,357.8 104.3,360.2 107.4,365.7 110.4,367.2 113.5,367.2 116.5,367.2 119.6,369.5 122.7,367.5 125.7,369.2 128.8,372.2 131.8,374.3 134.9,374.6 137.9,374.0 141.0,369.8 144.0,373.7 147.1,370.2 150.1,367.3 153.2,362.7 156.2,362.2 159.3,362.2 162.3,363.7 165.4,365.5 168.4,367.5 171.5,373.2 174.6,375.0 177.6,375.3 180.7,375.0 183.7,375.7 186.8,377.7 189.8,379.0 192.9,380.7 195.9,382.0 199.0,382.2 202.0,381.7 205.1,380.2 208.1,378.3 211.2,380.2 214.2,381.4 217.3,375.7 220.3,375.7 223.4,375.3 226.5,378.3 229.5,381.0 232.6,379.8 235.6,379.5 238.7,382.2 241.7,382.2 244.8,381.2 247.8,371.2 250.9,371.2 253.9,375.3 257.0,374.7 260.0,373.2 263.1,373.2 266.1,373.2 269.2,377.0 272.2,377.7 275.3,381.4 278.4,382.0 281.4,382.0 284.5,382.0 287.5,382.0 290.6,379.8 293.6,380.7 296.7,379.8 299.7,380.4 302.8,379.8 305.8,379.6 308.9,379.5 311.9,379.5 315.0,378.9 318.0,380.2 321.1,382.8 324.1,382.9 327.2,383.1 330.3,383.7 333.3,383.4 336.4,383.2 339.4,385.0 342.5,384.9 345.5,384.4 348.6,384.1 351.6,383.7 354.7,383.2 357.7,381.0 360.8,383.2 363.8,380.7 366.9,382.0 369.9,381.7 373.0,377.5 376.1,377.2 379.1,375.0 382.2,375.0 385.2,376.8 388.3,377.7 391.3,377.5 394.4,377.5 397.4,380.2 400.5,380.4 403.5,379.5 406.6,381.3 409.6,382.5 412.7,382.5 415.7,382.2 418.8,379.9 421.8,380.0 424.9,374.7 428.0,373.8 431.0,372.7 434.1,372.3 437.1,370.0 440.2,369.3 443.2,369.6 446.3,372.1 449.3,372.3 452.4,372.6 455.4,372.6 458.5,372.6 461.5,373.2 464.6,370.8 467.6,373.8 470.7,374.1 473.7,376.6 476.8,376.2 479.9,373.8 482.9,373.5 486.0,371.5 489.0,371.5 492.1,370.8 495.1,375.3 498.2,375.4 501.2,375.9 504.3,376.2 507.3,378.9 510.4,377.5 513.4,374.7 516.5,372.7 519.5,372.7 522.6,371.5 525.6,364.5 528.7,363.7 531.8,368.5 534.8,368.7 537.9,371.2 540.9,371.7 544.0,376.2 547.0,376.5 550.1,380.2 553.1,380.5 556.2,380.7 559.2,381.4 562.3,381.4 565.3,383.7 568.4,384.0 571.4,384.0 574.5,384.0 577.5,384.7 580.6,385.5 583.7,385.5 586.7,385.6 589.8,385.8 592.8,385.9 595.9,386.2 598.9,386.4 602.0,386.1 605.0,385.9 608.1,386.0 611.1,387.3 614.2,386.7 617.5,387.3" fill="none" stroke="#2c9fea" stroke-width="1.4" stroke-linejoin="round"/>
<polyline points="70.5,397.7 73.8,397.7 76.9,401.0 79.9,399.2 83.0,400.7 86.0,400.4 89.1,401.3 92.1,401.4 95.2,401.7 98.2,401.3 101.3,401.4 104.3,400.5 107.4,396.2 110.4,398.7 113.5,399.0 116.5,398.4 119.6,395.3 122.7,397.2 125.7,395.7 128.8,391.7 131.8,393.5 134.9,393.5 137.9,393.2 141.0,395.3 144.0,392.7 147.1,397.0 150.1,399.6 153.2,402.0 156.2,402.0 159.3,401.5 162.3,400.2 165.4,399.0 168.4,397.0 171.5,393.0 174.6,394.2 177.6,394.2 180.7,394.2 183.7,392.7 186.8,392.4 189.8,393.6 192.9,391.2 195.9,391.8 199.0,391.8 202.0,391.2 205.1,390.3 208.1,393.3 211.2,391.5 214.2,390.7 217.3,396.7 220.3,396.7 223.4,396.4 226.5,393.7 229.5,391.2 232.6,392.4 235.6,392.7 238.7,390.3 241.7,390.4 244.8,390.4 247.8,393.7 250.9,394.8 253.9,393.3 257.0,394.9 260.0,397.2 263.1,397.2 266.1,396.7 269.2,395.2 272.2,395.2 275.3,390.0 278.4,387.7 281.4,388.9 284.5,388.9 287.5,388.5 290.6,386.2 293.6,387.0 296.7,391.2 299.7,391.8 302.8,393.0 305.8,393.0 308.9,392.7 311.9,390.3 315.0,392.2 318.0,391.5 321.1,388.5 324.1,388.5 327.2,388.5 330.3,388.5 333.3,388.3 336.4,387.3 339.4,388.1 342.5,388.2 345.5,389.2 348.6,389.5 351.6,388.6 354.7,388.6 357.7,390.4 360.8,390.0 363.8,391.5 366.9,392.4 369.9,392.7 373.0,393.3 376.1,393.7 379.1,396.0 382.2,396.0 385.2,395.5 388.3,396.4 391.3,396.6 394.4,396.4 397.4,393.7 400.5,393.7 403.5,394.2 406.6,393.6 409.6,394.5 412.7,394.6 415.7,394.5 418.8,395.7 421.8,396.2 424.9,397.8 428.0,398.2 431.0,398.8 434.1,399.0 437.1,398.7 440.2,399.1 443.2,399.1 446.3,397.5 449.3,397.5 452.4,399.3 455.4,399.3 458.5,399.0 461.5,397.8 464.6,399.1 467.6,397.9 470.7,397.6 473.7,397.2 476.8,397.2 479.9,398.1 482.9,398.5 486.0,399.1 489.0,399.3 492.1,400.2 495.1,398.7 498.2,398.4 501.2,396.9 504.3,396.6 507.3,395.5 510.4,397.0 513.4,399.2 516.5,401.0 519.5,401.0 522.6,401.2 525.6,401.7 528.7,399.0 531.8,397.8 534.8,397.8 537.9,399.3 540.9,399.0 544.0,396.4 547.0,396.3 550.1,395.4 553.1,394.9 556.2,394.9 559.2,395.5 562.3,395.5 565.3,393.0 568.4,392.7 571.4,391.6 574.5,391.6 577.5,391.5 580.6,393.0 583.7,393.1 586.7,393.0 589.8,390.7 592.8,391.9 595.9,392.3 598.9,391.4 602.0,393.3 605.0,393.4 608.1,392.6 611.1,390.0 614.2,391.5 617.5,391.0" fill="none" stroke="#d62034" stroke-width="1.4" stroke-linejoin="round"/>
<line x1="620.6" x2="620.6" y1="345.0" y2="407.8" stroke="#adadb2" stroke-width="1.2"/>
<line x1="620.6" x2="624.6" y1="345.50" y2="345.50" stroke="#adadb2" stroke-width="1"/>
<text transform="translate(626.5,348.75) scale(0.805,1)" font-size="9.6" fill="#4b5563" stroke="#4b5563" stroke-width="0.3">4000</text>
<line x1="620.6" x2="624.6" y1="361.49" y2="361.49" stroke="#adadb2" stroke-width="1"/>
<text transform="translate(626.5,364.74) scale(0.805,1)" font-size="9.6" fill="#4b5563" stroke="#4b5563" stroke-width="0.3">3000</text>
<line x1="620.6" x2="624.6" y1="376.76" y2="376.76" stroke="#adadb2" stroke-width="1"/>
<text transform="translate(626.5,380.01) scale(0.805,1)" font-size="9.6" fill="#4b5563" stroke="#4b5563" stroke-width="0.3">2000</text>
<line x1="620.6" x2="624.6" y1="392.03" y2="392.03" stroke="#adadb2" stroke-width="1"/>
<text transform="translate(626.5,395.28) scale(0.805,1)" font-size="9.6" fill="#4b5563" stroke="#4b5563" stroke-width="0.3">1000</text>
<line x1="620.6" x2="624.6" y1="407.30" y2="407.30" stroke="#adadb2" stroke-width="1"/>
<text transform="translate(626.5,410.55) scale(0.805,1)" font-size="9.6" fill="#4b5563" stroke="#4b5563" stroke-width="0.3">0</text>
<line x1="147.5" x2="147.5" y1="407.3" y2="411.8" stroke="#777" stroke-width="1"/>
<text transform="translate(150.0,458.4) rotate(-90)" font-size="9.9" fill="#3c4654" stroke="#3c4654" stroke-width="0.15" textLength="42.8" lengthAdjust="spacingAndGlyphs">2024-Feb-01</text>
<line x1="236.1" x2="236.1" y1="407.3" y2="411.8" stroke="#777" stroke-width="1"/>
<text transform="translate(238.6,458.4) rotate(-90)" font-size="9.9" fill="#3c4654" stroke="#3c4654" stroke-width="0.15" textLength="42.8" lengthAdjust="spacingAndGlyphs">2024-Mar-01</text>
<line x1="330.7" x2="330.7" y1="407.3" y2="411.8" stroke="#777" stroke-width="1"/>
<text transform="translate(333.2,458.4) rotate(-90)" font-size="9.9" fill="#3c4654" stroke="#3c4654" stroke-width="0.15" textLength="42.8" lengthAdjust="spacingAndGlyphs">2024-Apr-01</text>
<line x1="422.3" x2="422.3" y1="407.3" y2="411.8" stroke="#777" stroke-width="1"/>
<text transform="translate(424.8,458.4) rotate(-90)" font-size="9.9" fill="#3c4654" stroke="#3c4654" stroke-width="0.15" textLength="42.8" lengthAdjust="spacingAndGlyphs">2024-May-01</text>
<line x1="516.9" x2="516.9" y1="407.3" y2="411.8" stroke="#777" stroke-width="1"/>
<text transform="translate(519.4,458.4) rotate(-90)" font-size="9.9" fill="#3c4654" stroke="#3c4654" stroke-width="0.15" textLength="42.8" lengthAdjust="spacingAndGlyphs">2024-Jun-01</text>
<line x1="608.5" x2="608.5" y1="407.3" y2="411.8" stroke="#777" stroke-width="1"/>
<text transform="translate(611.0,458.4) rotate(-90)" font-size="9.9" fill="#3c4654" stroke="#3c4654" stroke-width="0.15" textLength="42.8" lengthAdjust="spacingAndGlyphs">2024-Jul-01</text>
</svg>
</body></html>
